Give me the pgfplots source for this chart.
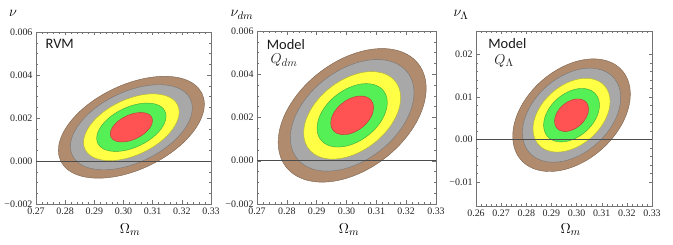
\documentclass[border=0pt]{standalone}
\usepackage{pgfplots}
\pgfplotsset{compat=1.18}
\usepackage{fontspec}
\setmainfont{Liberation Serif}
\newfontfamily\carlito{Carlito}
\definecolor{cBrown}{HTML}{B08B6D}
\definecolor{cGray}{HTML}{A8A8A8}
\definecolor{cYellow}{HTML}{FFFF45}
\definecolor{cGreen}{HTML}{55F055}
\definecolor{cRed}{HTML}{FF5252}
\pgfplotsset{
  panel/.style={
    scale only axis, anchor=south west, clip=true,
    scaled ticks=false,
    tick align=inside,
    major tick length=3.5bp, minor tick length=2bp,
    every tick/.style={black!55, line width=0.4pt},
    axis line style={black!55, line width=0.5pt},
    tick label style={font=\fontsize{10}{11}\selectfont, text=black!85},
    label style={font=\fontsize{15}{16}\selectfont},
    ylabel style={rotate=-90, anchor=center},
    xlabel style={anchor=center},
  },
  ell/.style={fill=#1, draw=#1!70!black, line width=0.4pt, smooth cycle, tension=0.632, mark=none},
  zline/.style={black!70, line width=0.6pt, mark=none},
}
\begin{document}
\begin{tikzpicture}
\useasboundingbox (0,0) rectangle (673bp,245bp);
% ---------------- Panel 1 ----------------
\begin{axis}[panel, at={(36bp,41bp)}, width=175bp, height=172bp,
  xmin=0.27, xmax=0.33, ymin=-0.002, ymax=0.006,
  xtick={0.27,0.28,0.29,0.30,0.31,0.32,0.33},
  xticklabels={0.27,0.28,0.29,0.30,0.31,0.32,0.33},
  ytick={-0.002,0,0.002,0.004,0.006},
  yticklabels={−0.002,0.000,0.002,0.004,0.006},
  minor x tick num=4, minor y tick num=3,
  xlabel={$\Omega_m$}, ylabel={$\nu$},
  xlabel style={at={(rel axis cs:0.537,-0.151)}},
  ylabel style={at={(rel axis cs:-0.131,1.11)}},
]
\addplot[ell=cBrown] coordinates {(0.32773,0.002646) (0.32438,0.003558) (0.31522,0.003937) (0.3027,0.003682) (0.29018,0.002861) (0.28102,0.001694) (0.27767,0.000494) (0.28102,-0.000418) (0.29018,-0.000797) (0.3027,-0.000542) (0.31522,0.000279) (0.32438,0.001446)};
\addplot[ell=cGray] coordinates {(0.3236,0.002468) (0.3208,0.00323) (0.31315,0.003546) (0.3027,0.003334) (0.29225,0.002648) (0.2846,0.001674) (0.2818,0.000672) (0.2846,-0.00009) (0.29225,-0.000406) (0.3027,-0.000194) (0.31315,0.000492) (0.3208,0.001466)};
\addplot[ell=cYellow] coordinates {(0.31909,0.002275) (0.3169,0.002872) (0.3109,0.00312) (0.3027,0.002953) (0.2945,0.002416) (0.2885,0.001651) (0.28631,0.000865) (0.2885,0.000268) (0.2945,0.00002) (0.3027,0.000187) (0.3109,0.000724) (0.3169,0.001489)};
\addplot[ell=cGreen] coordinates {(0.31459,0.002081) (0.313,0.002514) (0.30865,0.002694) (0.3027,0.002573) (0.29675,0.002183) (0.2924,0.001629) (0.29081,0.001059) (0.2924,0.000626) (0.29675,0.000446) (0.3027,0.000567) (0.30865,0.000957) (0.313,0.001511)};
\addplot[ell=cRed] coordinates {(0.30996,0.001882) (0.30899,0.002147) (0.30633,0.002256) (0.3027,0.002182) (0.29907,0.001944) (0.29641,0.001606) (0.29544,0.001258) (0.29641,0.000993) (0.29907,0.000884) (0.3027,0.000958) (0.30633,0.001196) (0.30899,0.001534)};
\addplot[zline] coordinates {(0.26,0) (0.34,0)};
\node[anchor=west, font=\carlito\fontsize{14.5}{15}\selectfont, text=black!90] at (rel axis cs:0.035,0.93) {RVM};
\end{axis}
% ---------------- Panel 2 ----------------
\begin{axis}[panel, at={(257bp,41bp)}, width=179bp, height=173bp,
  xmin=0.27, xmax=0.33, ymin=-0.002, ymax=0.006,
  xtick={0.27,0.28,0.29,0.30,0.31,0.32,0.33},
  xticklabels={0.27,0.28,0.29,0.30,0.31,0.32,0.33},
  ytick={-0.002,0,0.002,0.004,0.006},
  yticklabels={−0.002,0.000,0.002,0.004,0.006},
  minor x tick num=4, minor y tick num=3,
  xlabel={$\Omega_m$}, ylabel={$\nu_{dm}$},
  xlabel style={at={(rel axis cs:0.514,-0.150)}},
  ylabel style={at={(rel axis cs:-0.084,1.092)}},
]
\addplot[ell=cBrown] coordinates {(0.32671,0.003349) (0.32339,0.004595) (0.31431,0.005172) (0.3019,0.004925) (0.28949,0.003922) (0.28041,0.002431) (0.27709,0.000851) (0.28041,-0.000395) (0.28949,-0.000972) (0.3019,-0.000725) (0.31431,0.000278) (0.32339,0.001769)};
\addplot[ell=cGray] coordinates {(0.32262,0.003143) (0.31984,0.004183) (0.31226,0.004665) (0.3019,0.004459) (0.29154,0.003621) (0.28396,0.002376) (0.28118,0.001057) (0.28396,0.000017) (0.29154,-0.000465) (0.3019,-0.000259) (0.31226,0.000579) (0.31984,0.001824)};
\addplot[ell=cYellow] coordinates {(0.31815,0.002918) (0.31598,0.003734) (0.31003,0.004112) (0.3019,0.00395) (0.29377,0.003293) (0.28782,0.002317) (0.28565,0.001282) (0.28782,0.000466) (0.29377,0.000088) (0.3019,0.00025) (0.31003,0.000907) (0.31598,0.001883)};
\addplot[ell=cGreen] coordinates {(0.31368,0.002693) (0.31211,0.003285) (0.30779,0.003559) (0.3019,0.003442) (0.29601,0.002965) (0.29169,0.002257) (0.29012,0.001507) (0.29169,0.000915) (0.29601,0.000641) (0.3019,0.000758) (0.30779,0.001235) (0.31211,0.001943)};
\addplot[ell=cRed] coordinates {(0.30909,0.002462) (0.30813,0.002824) (0.3055,0.002991) (0.3019,0.002919) (0.2983,0.002628) (0.29567,0.002196) (0.29471,0.001738) (0.29567,0.001376) (0.2983,0.001209) (0.3019,0.001281) (0.3055,0.001572) (0.30813,0.002004)};
\addplot[zline] coordinates {(0.26,0) (0.34,0)};
\node[anchor=west, font=\carlito\fontsize{14.5}{15}\selectfont, text=black!90] at (rel axis cs:0.035,0.922) {Model};
\node[font=\fontsize{15}{16}\selectfont, text=black!88] at (rel axis cs:0.151,0.832) {$Q_{dm}$};
\end{axis}
% ---------------- Panel 3 ----------------
\begin{axis}[panel, at={(476bp,39bp)}, width=176bp, height=175bp,
  xmin=0.26, xmax=0.33, ymin=-0.0157, ymax=0.0255,
  xtick={0.26,0.27,0.28,0.29,0.30,0.31,0.32,0.33},
  xticklabels={0.26,0.27,0.28,0.29,0.30,0.31,0.32,0.33},
  ytick={-0.01,0,0.01,0.02},
  yticklabels={−0.01,0.00,0.01,0.02},
  minor x tick num=4, minor y tick num=4,
  xlabel={$\Omega_m$}, ylabel={$\nu_\Lambda$},
  xlabel style={at={(rel axis cs:0.538,-0.137)}},
  ylabel style={at={(rel axis cs:-0.085,1.091)}},
]
\addplot[ell=cBrown] coordinates {(0.32139,0.010621) (0.31826,0.016111) (0.3097,0.018807) (0.298,0.017984) (0.2863,0.013865) (0.27774,0.007553) (0.27461,0.000739) (0.27774,-0.004751) (0.2863,-0.007447) (0.298,-0.006624) (0.3097,-0.002505) (0.31826,0.003807)};
\addplot[ell=cGray] coordinates {(0.31753,0.009806) (0.31492,0.01439) (0.30777,0.016641) (0.298,0.015954) (0.28823,0.012514) (0.28108,0.007244) (0.27847,0.001554) (0.28108,-0.00303) (0.28823,-0.005281) (0.298,-0.004594) (0.30777,-0.001154) (0.31492,0.004116)};
\addplot[ell=cYellow] coordinates {(0.31332,0.008916) (0.31127,0.012512) (0.30566,0.014278) (0.298,0.013739) (0.29034,0.011041) (0.28473,0.006907) (0.28268,0.002444) (0.28473,-0.001152) (0.29034,-0.002918) (0.298,-0.002379) (0.30566,0.000319) (0.31127,0.004453)};
\addplot[ell=cGreen] coordinates {(0.30911,0.008027) (0.30762,0.010635) (0.30356,0.011915) (0.298,0.011524) (0.29244,0.009568) (0.28838,0.00657) (0.28689,0.003333) (0.28838,0.000725) (0.29244,-0.000555) (0.298,-0.000164) (0.30356,0.001792) (0.30762,0.00479)};
\addplot[ell=cRed] coordinates {(0.30478,0.007113) (0.30388,0.008705) (0.30139,0.009487) (0.298,0.009248) (0.29461,0.008054) (0.29212,0.006223) (0.29122,0.004247) (0.29212,0.002655) (0.29461,0.001873) (0.298,0.002112) (0.30139,0.003307) (0.30388,0.005137)};
\addplot[zline] coordinates {(0.25,0) (0.34,0)};
\node[anchor=west, font=\carlito\fontsize{14.5}{15}\selectfont, text=black!90] at (rel axis cs:0.05,0.926) {Model};
\node[font=\fontsize{15}{16}\selectfont, text=black!88] at (rel axis cs:0.159,0.829) {$Q_\Lambda$};
\end{axis}
\end{tikzpicture}
\end{document}
